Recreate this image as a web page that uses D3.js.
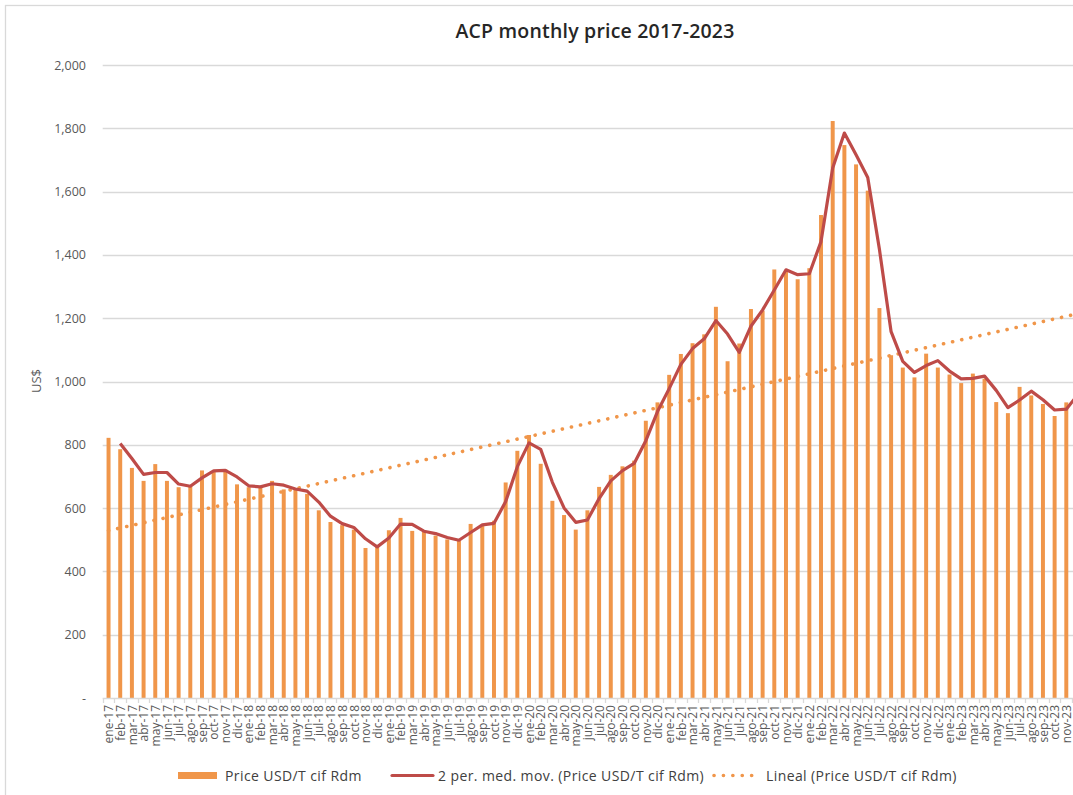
<!DOCTYPE html>
<html>
<head>
<meta charset="utf-8">
<script src="https://cdn.jsdelivr.net/npm/d3@7"></script>
<style>
  html, body { margin: 0; padding: 0; background: #fff; }
  svg { display: block; font-family: "Open Sans", sans-serif; }
</style>
</head>
<body>
<svg id="chart" width="1073" height="795"></svg>
<script>
// ---- Data ----
const months = ["ene","feb","mar","abr","may","jun","jul","ago","sep","oct","nov","dic"];
const years = ["17","18","19","20","21","22","23"];
const categories = [];
years.forEach(y => months.forEach(m => categories.push(m + "-" + y)));

const price2017 = [822, 786, 727, 686, 739, 686, 666, 672, 719, 716, 722, 675];
const price2018 = [666, 668, 686, 659, 662, 645, 593, 556, 546, 532, 474, 481];
const price2019 = [530, 569, 528, 526, 513, 501, 496, 550, 544, 560, 681, 781];
const price2020 = [831, 740, 623, 578, 532, 593, 667, 705, 732, 750, 876, 934];
const price2021 = [1021, 1087, 1121, 1149, 1236, 1064, 1120, 1229, 1224, 1354, 1352, 1323];
const price2022 = [1358, 1526, 1823, 1747, 1686, 1603, 1232, 1083, 1044, 1013, 1088, 1044];
const price2023 = [1022, 995, 1025, 1009, 935, 900, 983, 956, 929, 891, 934, 984];
const prices = [].concat(price2017, price2018, price2019, price2020, price2021, price2022, price2023);

const yTicks = [0, 200, 400, 600, 800, 1000, 1200, 1400, 1600, 1800, 2000];

const titleText = "ACP monthly price 2017-2023";
const yLabel = "US$";
const legendLabels = ["Price USD/T cif Rdm", "2 per. med. mov. (Price USD/T cif Rdm)", "Lineal (Price USD/T cif Rdm)"];

// ---- Styles / layout ----
const W = 1073, H = 795;
const barColor = "#F0964A";
const maColor = "#BE4B48";
const gridColor = "#D9D9D9";
const textColor = "#595959";
const step = 11.68;
const plotLeft = 102.7;
const plotRight = plotLeft + step * categories.length;
const y0 = 698, yTop = 65;

const svg = d3.select("#chart");
svg.append("rect").attr("width", W).attr("height", H).attr("fill", "#fff");
// outer chart border (cropped at right/bottom)
svg.append("rect").attr("x", 5.5).attr("y", 5.5).attr("width", W + 20).attr("height", H + 20)
  .attr("fill", "none").attr("stroke", gridColor).attr("stroke-width", 1.3);

const x = d3.scaleBand().domain(categories).range([plotLeft, plotRight])
  .paddingInner(0.66).paddingOuter(0.33);
const y = d3.scaleLinear().domain([0, 2000]).range([y0, yTop]);
const bw = x.bandwidth();
const cx = c => x(c) + bw / 2;

// gridlines
svg.append("g").selectAll("line").data(yTicks.filter(t => t > 0)).join("line")
  .attr("x1", plotLeft).attr("x2", plotRight)
  .attr("y1", d => Math.round(y(d)) + 0.5).attr("y2", d => Math.round(y(d)) + 0.5)
  .attr("stroke", gridColor).attr("stroke-width", 1.3);

// y axis labels
const yAxis = d3.axisLeft(y).tickValues(yTicks).tickSize(0).tickPadding(0)
  .tickFormat(d => d === 0 ? "-" : d3.format(",")(d));
const gy = svg.append("g").attr("transform", `translate(86,0)`).call(yAxis);
gy.select(".domain").remove();
gy.selectAll("text").attr("fill", textColor).style("font-size", "12.5px")
  .style("font-family", "'Open Sans', sans-serif");

// y title
svg.append("text").attr("transform", `translate(41,381) rotate(-90)`)
  .attr("text-anchor", "middle").attr("fill", textColor).style("font-size", "13px")
  .text(yLabel);

// bars
svg.append("g").selectAll("rect").data(prices).join("rect")
  .attr("x", (d, i) => x(categories[i])).attr("width", bw)
  .attr("y", d => y(d)).attr("height", d => y0 - y(d))
  .attr("fill", barColor);

// x axis line and separators
svg.append("line").attr("x1", plotLeft).attr("x2", plotRight)
  .attr("y1", y0 + 0.5).attr("y2", y0 + 0.5).attr("stroke", gridColor).attr("stroke-width", 1.3);
const gap = (step - bw) / 2;
const seps = categories.map(c => x(c) - gap).concat([x(categories[categories.length - 1]) + bw + gap]);
svg.append("g").selectAll("line").data(seps).join("line")
  .attr("x1", d => Math.round(d) + 0.5).attr("x2", d => Math.round(d) + 0.5)
  .attr("y1", y0).attr("y2", y0 + 5).attr("stroke", gridColor).attr("stroke-width", 1.3);

// x labels
const xAxis = d3.axisBottom(x).tickSize(0).tickSizeOuter(0)
  .tickValues(categories.filter(c => cx(c) < W - 3));
const gx = svg.append("g").attr("transform", `translate(0,${y0})`).call(xAxis);
gx.select(".domain").remove();
gx.selectAll("text")
  .attr("transform", "rotate(-90)").attr("x", -7).attr("y", 0.5).attr("dy", "0.35em")
  .attr("text-anchor", "end").attr("fill", textColor)
  .style("font-size", "12px").style("font-family", "'Open Sans', sans-serif");

// linear trend (least squares on the price series)
const n = prices.length;
const xs = d3.range(1, n + 1);
const mx = d3.mean(xs), my = d3.mean(prices);
const slope = d3.sum(xs, (t, i) => (t - mx) * (prices[i] - my)) / d3.sum(xs, t => (t - mx) ** 2);
const icpt = my - slope * mx;
const trendPts = [[cx(categories[0]), y(icpt + slope * 1)], [cx(categories[n - 1]), y(icpt + slope * n)]];
svg.append("path").attr("d", d3.line()(trendPts))
  .attr("fill", "none").attr("stroke", barColor).attr("stroke-width", 3.6)
  .attr("stroke-linecap", "round").attr("stroke-dasharray", "0.1 9.2");

// 2-period moving average
const ma = prices.map((v, i) => i === 0 ? null : (v + prices[i - 1]) / 2);
const maLine = d3.line().defined(d => d != null)
  .x((d, i) => cx(categories[i])).y(d => y(d));
svg.append("path").attr("d", maLine(ma))
  .attr("fill", "none").attr("stroke", maColor).attr("stroke-width", 3.2)
  .attr("stroke-linejoin", "round");

// title
svg.append("text").attr("x", 595).attr("y", 38).attr("text-anchor", "middle")
  .attr("fill", "#262626").style("font-size", "19.5px").style("font-weight", 600)
  .style("letter-spacing", "0.2px")
  .text(titleText);

// legend
const lg = svg.append("g").style("font-size", "14px").style("letter-spacing", "0.4px").attr("fill", "#404040");
lg.append("rect").attr("x", 178).attr("y", 772).attr("width", 39).attr("height", 7).attr("fill", barColor);
lg.append("text").attr("x", 225).attr("y", 780.5).text(legendLabels[0]);
lg.append("line").attr("x1", 392).attr("x2", 433).attr("y1", 775.5).attr("y2", 775.5)
  .attr("stroke", maColor).attr("stroke-width", 3.2).attr("stroke-linecap", "round");
lg.append("text").attr("x", 438).attr("y", 780.5).text(legendLabels[1]);
lg.append("line").attr("x1", 714).attr("x2", 752).attr("y1", 775.5).attr("y2", 775.5)
  .attr("stroke", barColor).attr("stroke-width", 3.6).attr("stroke-linecap", "round")
  .attr("stroke-dasharray", "0.1 9.3");
lg.append("text").attr("x", 766).attr("y", 780.5).text(legendLabels[2]);
</script>
</body>
</html>
